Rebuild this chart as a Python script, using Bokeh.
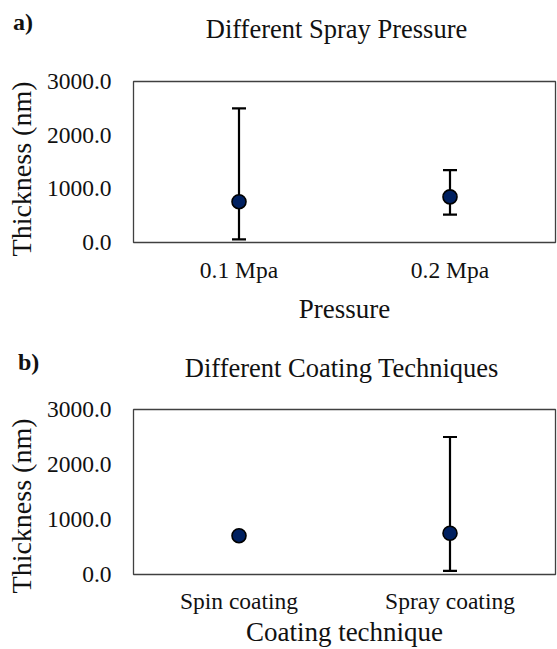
from bokeh.plotting import figure
from bokeh.layouts import column
from bokeh.models import (ColumnDataSource, Range1d, FixedTicker, NumeralTickFormatter,
                          Whisker, TeeHead, Div)
from bokeh.embed import file_html
from bokeh.resources import INLINE

# ---- data ----
pressure_cats = ["0.1 Mpa", "0.2 Mpa"]
pressure_mean = [760, 850]
pressure_upper = [2500, 1350]
pressure_lower = [60, 520]

technique_cats = ["Spin coating", "Spray coating"]
technique_mean = [705, 750]
technique_upper = [None, 2500]
technique_lower = [None, 65]

y_ticks = [0, 1000, 2000, 3000]

FONT = "Liberation Serif"
NAVY = "#002060"
TXT = "#111111"


def header(letter, letter_left, letter_top, title, title_cx, title_top, h):
    html = (
        f"<div style='position:relative;width:557px;height:{h}px;"
        f"font-family:\"{FONT}\";color:{TXT};'>"
        f"<span style='position:absolute;left:{letter_left}px;top:{letter_top}px;"
        f"font-size:24px;line-height:24px;font-weight:bold;white-space:nowrap;'>{letter}</span>"
        f"<span style='position:absolute;left:{title_cx}px;top:{title_top}px;"
        f"transform:translateX(-50%);font-size:26.5px;line-height:26.5px;"
        f"white-space:nowrap;'>{title}</span>"
        "</div>"
    )
    return Div(text=html, width=557, height=h, margin=(0, 0, 0, 0))


def make_panel(cats, mean, upper, lower, fw, fh, bl, br, bt, bb,
               xlabel, xstand, xlstand, ypad):
    p = figure(x_range=cats, y_range=Range1d(0, 3000),
               frame_width=fw, frame_height=fh,
               min_border_left=bl, min_border_right=br,
               min_border_top=bt, min_border_bottom=bb,
               output_backend="svg", toolbar_location=None, margin=(0, 0, 0, 0))
    p.outline_line_color = "#404040"
    p.outline_line_width = 1.3
    p.xgrid.visible = False
    p.ygrid.visible = False
    p.background_fill_color = "white"
    p.border_fill_color = "white"

    for ax in (p.xaxis[0], p.yaxis[0]):
        ax.axis_line_color = None
        ax.major_tick_line_color = None
        ax.minor_tick_line_color = None
        ax.major_tick_out = 0
        ax.major_tick_in = 0
        ax.minor_tick_out = 0
        ax.minor_tick_in = 0
        ax.major_label_text_font = FONT
        ax.major_label_text_font_size = "23.5px"
        ax.major_label_text_color = TXT
        ax.axis_label_text_font = FONT
        ax.axis_label_text_font_style = "normal"
        ax.axis_label_text_color = TXT
    p.yaxis.ticker = FixedTicker(ticks=y_ticks)
    p.yaxis.formatter = NumeralTickFormatter(format="0.0")
    p.yaxis.major_label_standoff = 22
    # trailing no-break spaces nudge the rotated label down, as in the original
    p.yaxis.axis_label = "Thickness (nm)" + "\u00a0" * ypad
    p.yaxis.axis_label_text_font_size = "28px"
    p.yaxis.axis_label_standoff = 7
    p.xaxis.major_label_standoff = xstand
    p.xaxis.axis_label = xlabel
    p.xaxis.axis_label_text_font_size = "27px"
    p.xaxis.axis_label_standoff = xlstand

    src = ColumnDataSource(dict(x=cats, y=mean))
    ex, eu, el = [], [], []
    for c, u, l in zip(cats, upper, lower):
        if u is not None and l is not None:
            ex.append(c); eu.append(u); el.append(l)
    esrc = ColumnDataSource(dict(x=ex, upper=eu, lower=el))
    w = Whisker(source=esrc, base="x", upper="upper", lower="lower",
                line_color="black", line_width=2.2,
                upper_head=TeeHead(size=14, line_width=2.2, line_color="black"),
                lower_head=TeeHead(size=14, line_width=2.2, line_color="black"))
    p.add_layout(w)
    p.scatter("x", "y", source=src, size=14, fill_color=NAVY,
              line_color="black", line_width=1.6)
    return p


head_a = header("a)", 13, 9.9, "Different Spray Pressure", 336.5, 16.1, 45)
pa = make_panel(pressure_cats, pressure_mean, pressure_upper, pressure_lower,
                422, 161, 133, 2, 36, 103, "Pressure", 14, 8, 2)

head_b = header("b)", 18, 4.9, "Different Coating Techniques", 341.6, 9.8, 40)
pb = make_panel(technique_cats, technique_mean, technique_upper, technique_lower,
                422, 165, 133, 2, 24, 75, "Coating technique", 13, 0, 4)

layout = column(head_a, pa, head_b, pb, spacing=0)
open("out.html", "w").write(file_html(layout, INLINE))
